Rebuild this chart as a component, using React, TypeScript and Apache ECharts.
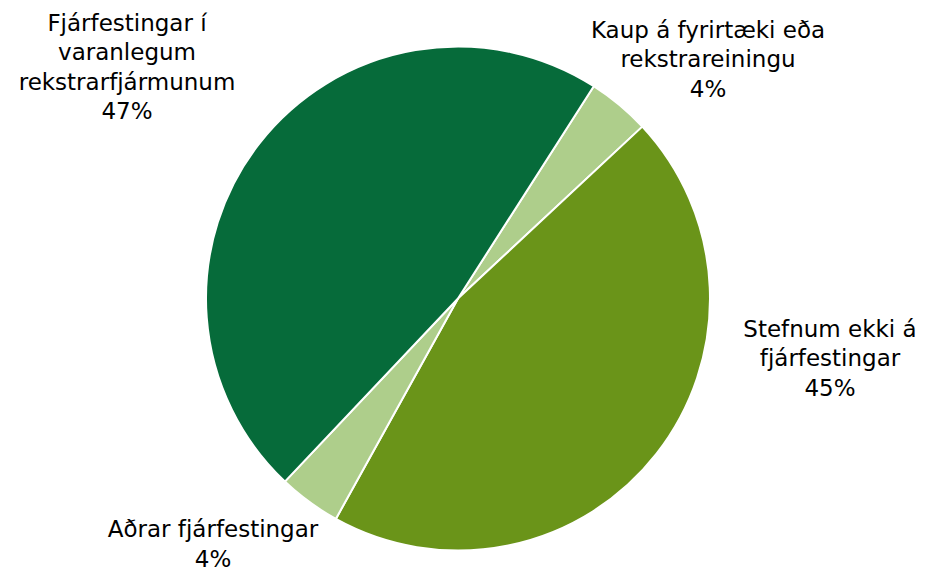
import React, { useEffect, useRef } from "react";
import * as echarts from "echarts";

const categories = [
  "Kaup á fyrirtæki eða rekstrareiningu",
  "Stefnum ekki á fjárfestingar",
  "Aðrar fjárfestingar",
  "Fjárfestingar í varanlegum rekstrarfjármunum",
];
const labelTexts = [
  "Kaup á fyrirtæki eða\nrekstrareiningu",
  "Stefnum ekki á\nfjárfestingar",
  "Aðrar fjárfestingar",
  "Fjárfestingar í\nvaranlegum\nrekstrarfjármunum",
];
const values = [4, 45, 4, 47];
const colors = ["#AECE8B", "#6A9419", "#AECE8B", "#066B3A"];
const labelPos = [
  [708, 59],
  [830, 358],
  [213, 544],
  [127, 67],
];

export default function App() {
  const ref = useRef<HTMLDivElement>(null);
  useEffect(() => {
    document.body.style.margin = "0";
    const chart = echarts.init(ref.current!, null, { renderer: "svg" });
    chart.setOption({
      animation: false,
      backgroundColor: "#ffffff",
      series: [
        {
          type: "pie",
          center: [458, 298.5],
          radius: 252,
          startAngle: 57.4,
          clockwise: true,
          avoidLabelOverlap: false,
          itemStyle: { borderColor: "#ffffff", borderWidth: 2 },
          label: {
            show: true,
            position: "outside",
            fontFamily: "DejaVu Sans",
            fontSize: 23,
            lineHeight: 29.5,
            color: "#000000",
            align: "center",
            formatter: (p: any) => `${labelTexts[p.dataIndex]}\n${p.value}%`,
          },
          labelLine: { show: false },
          labelLayout: (p: any) => ({
            x: labelPos[p.dataIndex][0],
            y: labelPos[p.dataIndex][1],
            align: "center",
            verticalAlign: "middle",
          }),
          emphasis: { disabled: true },
          data: categories.map((c, i) => ({
            name: c,
            value: values[i],
            itemStyle: { color: colors[i] },
          })),
        },
      ],
    });
    return () => chart.dispose();
  }, []);
  return (
    <div
      ref={ref}
      style={{ position: "absolute", left: 0, top: 0, width: 925, height: 572 }}
    />
  );
}
